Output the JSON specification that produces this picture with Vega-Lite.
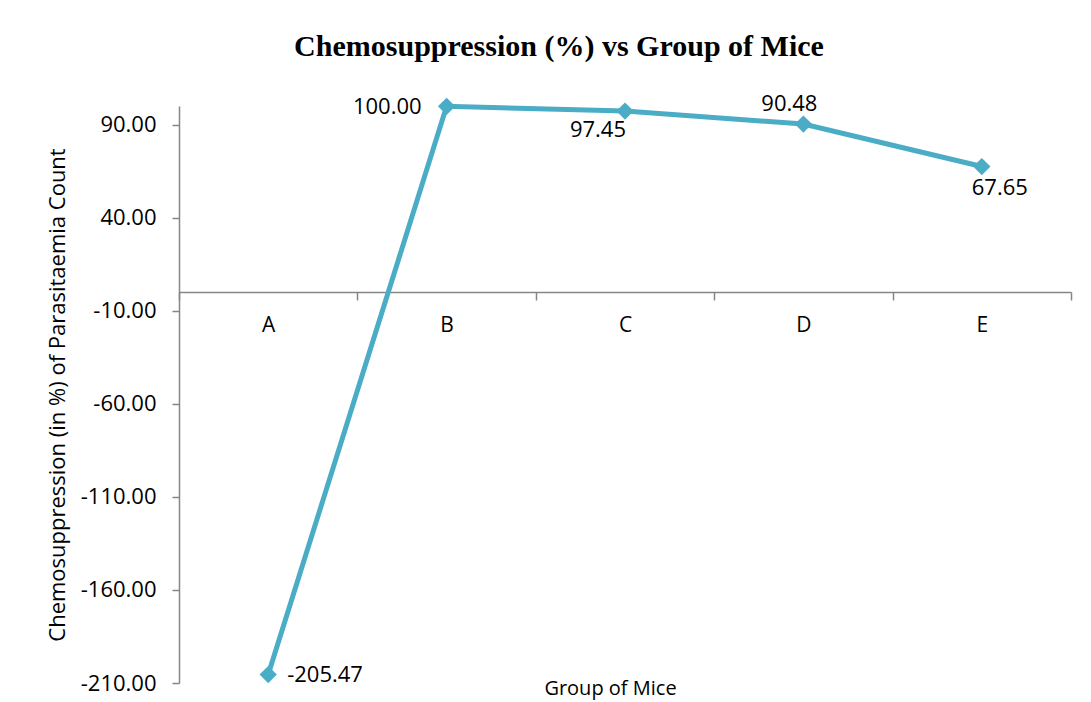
{
  "$schema": "https://vega.github.io/schema/vega-lite/v6.json",
  "width": 892,
  "height": 577,
  "autosize": "none",
  "padding": {"left": 179, "top": 106, "right": 20, "bottom": 19},
  "background": "white",
  "config": {"view": {"stroke": null}, "font": "Open Sans"},
  "title": {
    "text": "Chemosuppression (%) vs Group of Mice",
    "font": "Liberation Serif",
    "fontSize": 30,
    "fontWeight": "bold",
    "color": "black",
    "anchor": "middle",
    "frame": "bounds",
    "baseline": "alphabetic",
    "offset": 7
  },
  "data": {
    "values": [
      {"group": "A", "value": -205.47},
      {"group": "B", "value": 100.0},
      {"group": "C", "value": 97.45},
      {"group": "D", "value": 90.48},
      {"group": "E", "value": 67.65}
    ]
  },
  "encoding": {
    "x": {
      "field": "group",
      "type": "nominal",
      "sort": null,
      "scale": {"type": "band", "paddingInner": 0, "paddingOuter": 0},
      "axis": {
        "orient": "bottom",
        "offset": -391,
        "tickBand": "extent",
        "title": "Group of Mice",
        "titleX": 431,
        "titleY": 402,
        "titleAlign": "center",
        "titleAnchor": null,
        "titleBaseline": "alphabetic",
        "titleFontSize": 20,
        "titleFontWeight": "normal",
        "titleColor": "black",
        "titleFont": "Open Sans",
        "labelAngle": 0,
        "labelFontSize": 21,
        "labelFont": "Open Sans",
        "labelColor": "black",
        "labelBaseline": "middle",
        "labelPadding": 25,
        "domainColor": "#868686",
        "domainWidth": 1.5,
        "tickColor": "#868686",
        "tickWidth": 1.5,
        "tickSize": 8,
        "grid": false
      }
    },
    "y": {
      "field": "value",
      "type": "quantitative",
      "scale": {"domain": [-210, 100.2], "nice": false, "zero": false},
      "axis": {
        "title": "Chemosuppression (in %) of Parasitaemia Count",
        "values": [-210, -160, -110, -60, -10, 40, 90],
        "labelExpr": "replace(format(datum.value, '.2f'), '\u2212', '-')",
        "grid": false,
        "domainColor": "#868686",
        "domainWidth": 1.5,
        "tickColor": "#868686",
        "tickWidth": 1.5,
        "tickSize": 7,
        "labelFontSize": 22,
        "labelFont": "Open Sans",
        "labelColor": "black",
        "labelPadding": 16,
        "titleFontSize": 22,
        "titleFont": "Open Sans",
        "titleFontWeight": "normal",
        "titleColor": "black",
        "titlePadding": 11
      }
    }
  },
  "layer": [
    {"mark": {"type": "line", "color": "#4BACC6", "strokeWidth": 5}},
    {"mark": {"type": "point", "shape": "diamond", "filled": true, "size": 300, "color": "#4BACC6", "opacity": 1}},
    {
      "transform": [{"filter": "datum.group === 'A'"}],
      "mark": {"type": "text", "align": "left", "baseline": "middle", "dx": 19, "fontSize": 22, "color": "black", "text": {"expr": "replace(format(datum.value, '.2f'), '\u2212', '-')"}}
    },
    {
      "transform": [{"filter": "datum.group === 'B'"}],
      "mark": {"type": "text", "align": "right", "baseline": "middle", "dx": -25, "dy": 1, "fontSize": 22, "color": "black"},
      "encoding": {"text": {"field": "value", "type": "quantitative", "format": ".2f"}}
    },
    {
      "transform": [{"filter": "datum.group === 'C'"}],
      "mark": {"type": "text", "align": "right", "baseline": "middle", "dx": 1, "dy": 19, "fontSize": 22, "color": "black"},
      "encoding": {"text": {"field": "value", "type": "quantitative", "format": ".2f"}}
    },
    {
      "transform": [{"filter": "datum.group === 'D'"}],
      "mark": {"type": "text", "align": "center", "baseline": "middle", "dx": -14, "dy": -20, "fontSize": 22, "color": "black"},
      "encoding": {"text": {"field": "value", "type": "quantitative", "format": ".2f"}}
    },
    {
      "transform": [{"filter": "datum.group === 'E'"}],
      "mark": {"type": "text", "align": "center", "baseline": "middle", "dx": 18, "dy": 21, "fontSize": 22, "color": "black"},
      "encoding": {"text": {"field": "value", "type": "quantitative", "format": ".2f"}}
    }
  ]
}
